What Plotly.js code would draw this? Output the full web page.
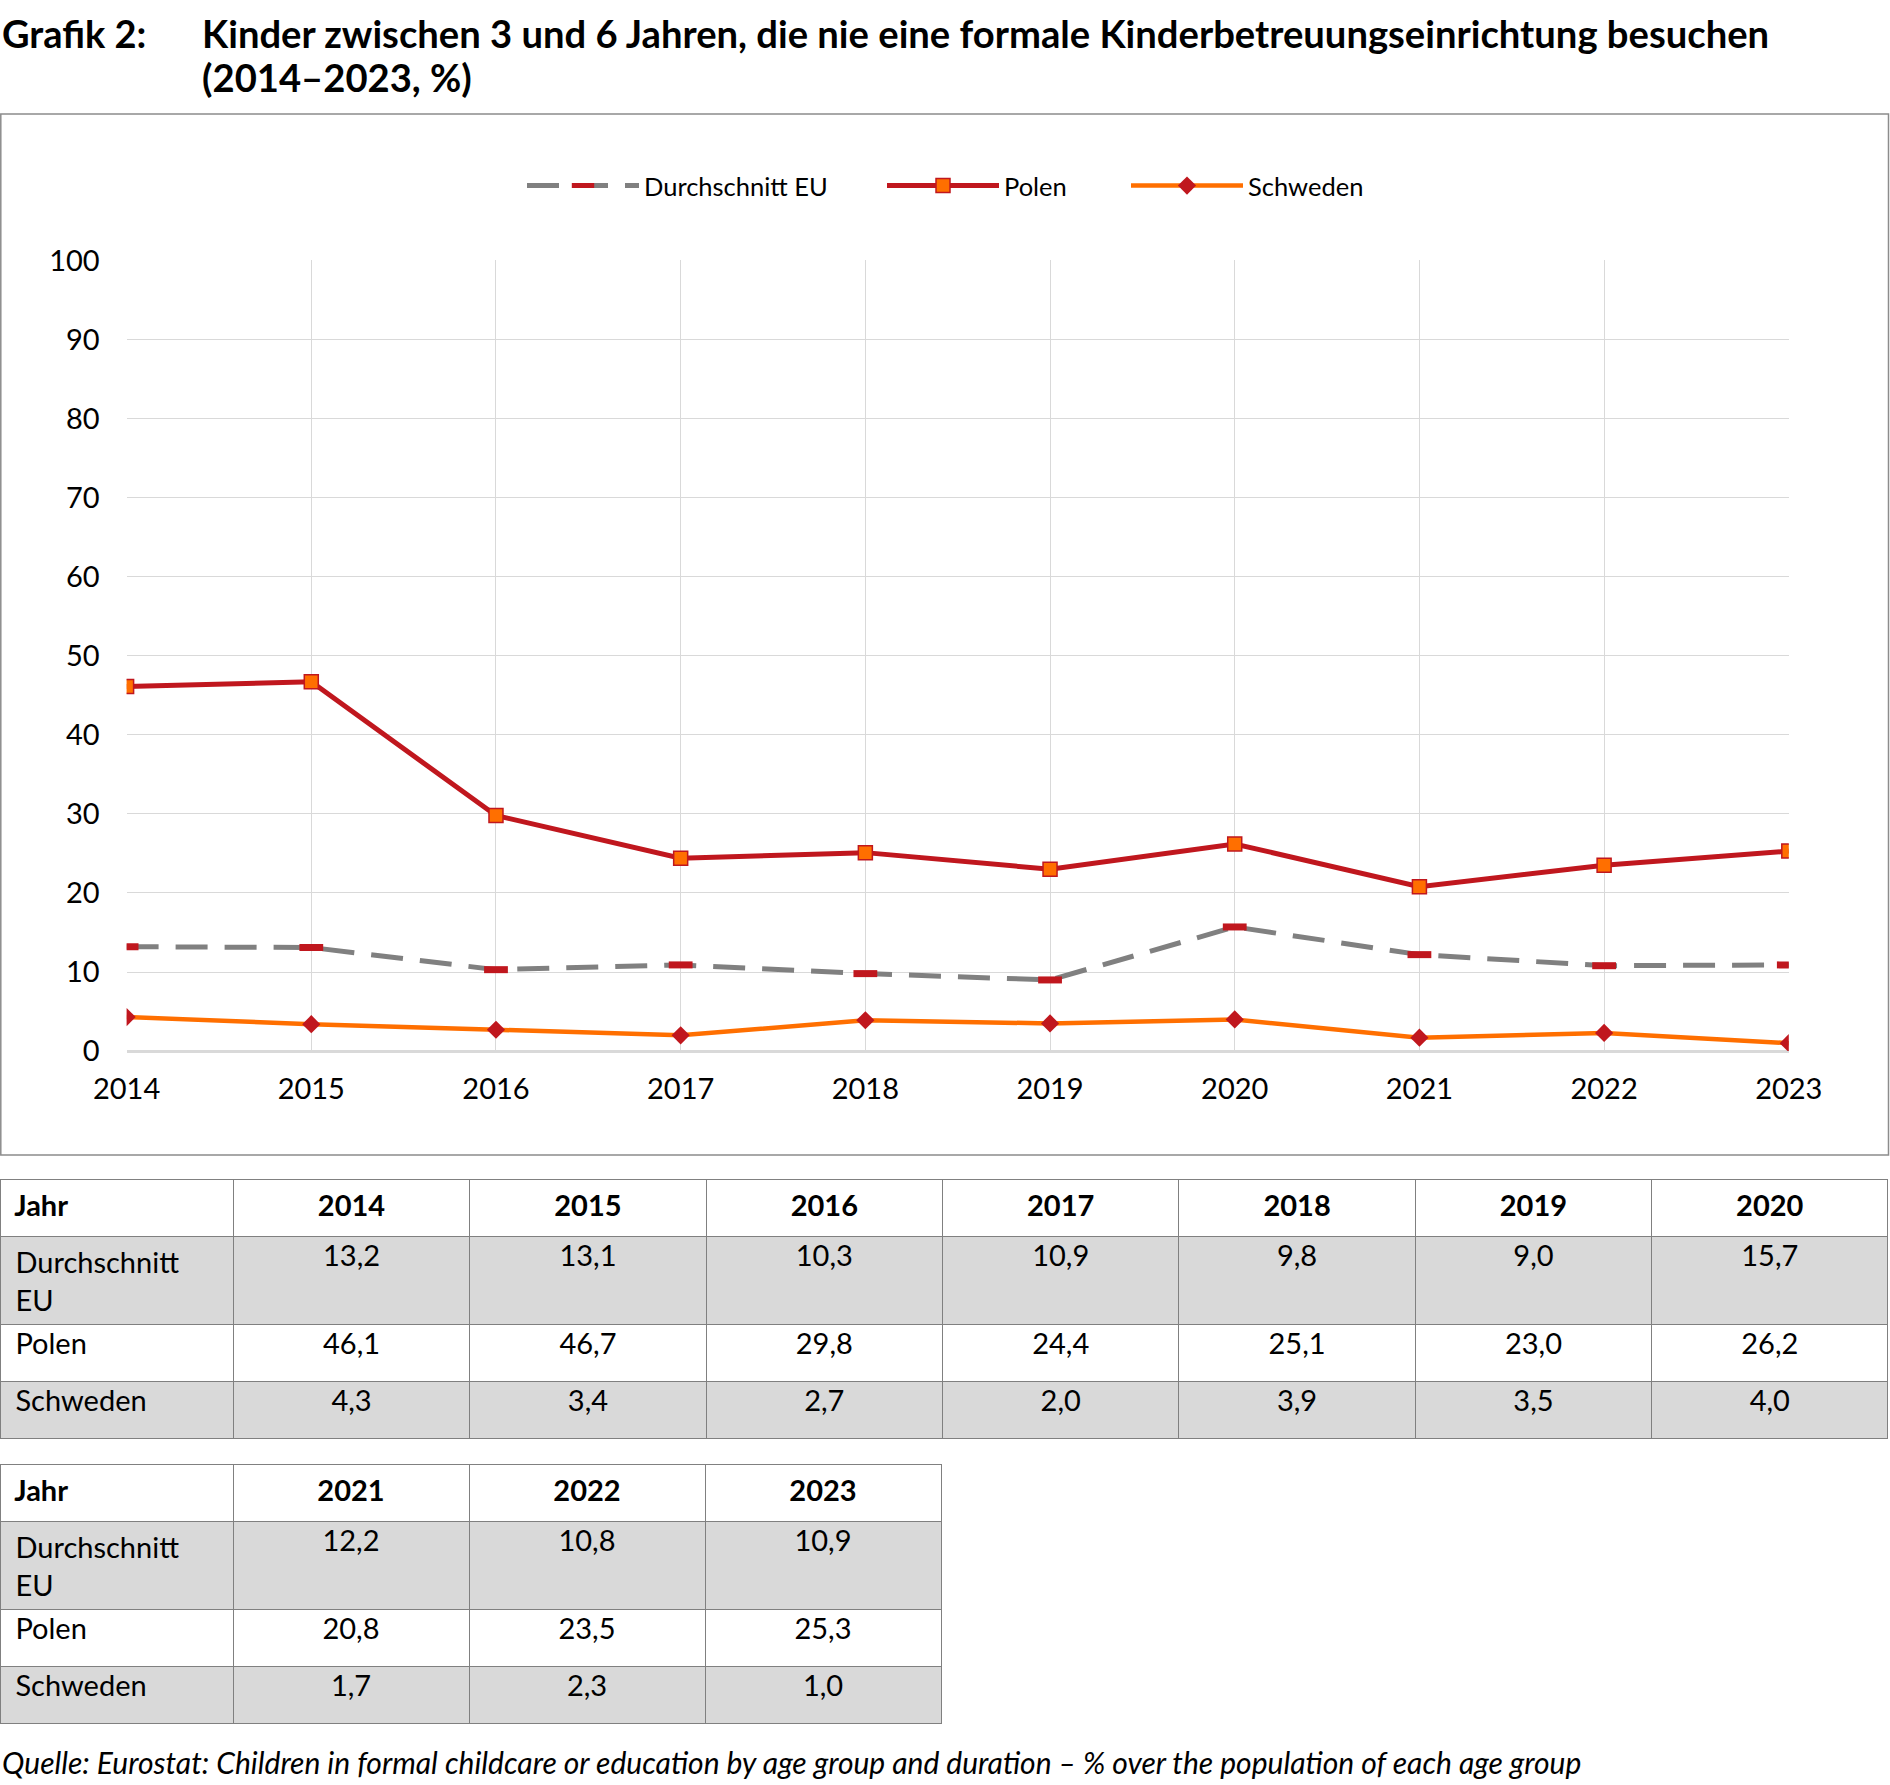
<!DOCTYPE html>
<html>
<head>
<meta charset="utf-8">
<script src="https://cdn.plot.ly/plotly-3.0.1.min.js"></script>
<style>
html,body{margin:0;padding:0;background:#fff;}
#chart{width:1890px;height:1785px;}
</style>
</head>
<body>
<div id="chart"></div>
<script>
// ---- data ----
const years = [2014, 2015, 2016, 2017, 2018, 2019, 2020, 2021, 2022, 2023];
const euAvg = [13.2, 13.1, 10.3, 10.9, 9.8, 9.0, 15.7, 12.2, 10.8, 10.9];
const polen = [46.1, 46.7, 29.8, 24.4, 25.1, 23.0, 26.2, 20.8, 23.5, 25.3];
const schweden = [4.3, 3.4, 2.7, 2.0, 3.9, 3.5, 4.0, 1.7, 2.3, 1.0];
const seriesNames = ['Durchschnitt EU', 'Polen', 'Schweden'];
const rowLabels = ['Durchschnitt<br>EU', 'Polen', 'Schweden'];
const headerLabel = 'Jahr';
const yTicks = [0, 10, 20, 30, 40, 50, 60, 70, 80, 90, 100];
const titleLabel = 'Grafik 2:';
const titleLines = ['Kinder zwischen 3 und 6 Jahren, die nie eine formale Kinderbetreuungseinrichtung besuchen', '(2014–2023, %)'];
const sourceText = 'Quelle: Eurostat: Children in formal childcare or education by age group and duration – % over the population of each age group';

// ---- helpers ----
const W = 1890, H = 1785;
const px = x => x / W;
const py = y => 1 - y / H;
const fmt = v => v.toFixed(1).replace('.', ',');
const pad = s => s.split('<br>').map(t => '\u00A0' + t).join('<br>');
const FONT = 'Lato, "Open Sans", sans-serif';
const RED = '#C0171E';
const ORANGE = '#FF6F00';
const GRAY = '#808080';

function makeTable(idx, xDom, yDom) {
  const header = ['<b>' + pad(headerLabel) + '</b>'].concat(idx.map(i => '<b>' + years[i] + '</b>'));
  const cols = [rowLabels.map(pad)].concat(idx.map(i => [fmt(euAvg[i]), fmt(polen[i]), fmt(schweden[i])]));
  const fills = cols.map(() => ['#D9D9D9', '#FFFFFF', '#D9D9D9']);
  return {
    type: 'table',
    domain: {x: xDom, y: yDom},
    columnwidth: [233].concat(idx.map(() => 236)),
    header: {
      values: header,
      align: ['left'].concat(idx.map(() => 'center')),
      fill: {color: '#FFFFFF'},
      line: {color: GRAY, width: 1},
      font: {family: FONT, size: 29, color: '#000'},
      height: 57
    },
    cells: {
      values: cols,
      align: ['left'].concat(idx.map(() => 'center')),
      fill: {color: fills},
      line: {color: GRAY, width: 1},
      font: {family: FONT, size: 29, color: '#000'},
      height: 57
    }
  };
}

const traces = [
  {
    type: 'scatter', mode: 'lines+markers', name: seriesNames[0], legend: 'legend',
    x: years, y: euAvg,
    line: {color: GRAY, width: 5, dash: '32px,17px'},
    marker: {symbol: 'line-ew', size: 17, color: RED, line: {color: RED, width: 7}}
  },
  {
    type: 'scatter', mode: 'lines+markers', name: seriesNames[1], legend: 'legend2',
    x: years, y: polen,
    line: {color: RED, width: 5},
    marker: {symbol: 'square', size: 14, color: ORANGE, line: {color: RED, width: 1.5}}
  },
  {
    type: 'scatter', mode: 'lines+markers', name: seriesNames[2], legend: 'legend3',
    x: years, y: schweden,
    line: {color: ORANGE, width: 4.5},
    marker: {symbol: 'diamond', size: 14, color: RED, line: {width: 0}}
  },
  makeTable([0, 1, 2, 3, 4, 5, 6], [0, px(1888)], [py(1448), py(1179)]),
  makeTable([7, 8, 9], [0, px(941)], [py(1734), py(1464)])
];

function legendAt(xLeft) {
  return {
    orientation: 'h', x: px(xLeft), xanchor: 'left', y: py(186), yanchor: 'middle',
    font: {family: FONT, size: 25.5, color: '#000'},
    itemwidth: 112, bgcolor: 'rgba(0,0,0,0)', borderwidth: 0
  };
}

const layout = {
  width: W, height: H,
  margin: {l: 0, r: 0, t: 0, b: 0},
  paper_bgcolor: '#fff', plot_bgcolor: '#fff',
  font: {family: FONT, color: '#000'},
  showlegend: true,
  legend: legendAt(522),
  legend2: legendAt(882),
  legend3: legendAt(1126),
  xaxis: {
    domain: [px(126.6), px(1788.8)],
    range: [2014, 2023],
    tickvals: years, ticktext: years.map(String),
    showgrid: true, gridcolor: '#D9D9D9', gridwidth: 1,
    showline: false, zeroline: false, ticks: '',
    tickfont: {family: FONT, size: 29, color: '#000'},
    ticklabelstandoff: 18, fixedrange: true
  },
  yaxis: {
    domain: [py(1051.1), py(260.4)],
    range: [0, 100],
    tickvals: yTicks,
    showgrid: true, gridcolor: '#D9D9D9', gridwidth: 1,
    zeroline: true, zerolinecolor: '#D9D9D9', zerolinewidth: 3,
    showline: false, ticks: '',
    tickfont: {family: FONT, size: 29, color: '#000'},
    ticklabelstandoff: 26, fixedrange: true
  },
  shapes: [
    {type: 'rect', xref: 'paper', yref: 'paper', x0: px(0.8), x1: px(1888.5), y0: py(1155), y1: py(114),
     line: {color: '#8C8C8C', width: 1.5}, fillcolor: 'rgba(0,0,0,0)'}
  ],
  annotations: [
    {xref: 'paper', yref: 'paper', x: 0, y: py(32.5), xanchor: 'left', yanchor: 'middle',
     text: '<b>' + titleLabel + '</b>', showarrow: false, align: 'left',
     font: {family: FONT, size: 38, color: '#000'}},
    {xref: 'paper', yref: 'paper', x: px(200), y: py(32.5), xanchor: 'left', yanchor: 'middle',
     text: '<b>' + titleLines[0] + '</b>', showarrow: false, align: 'left',
     font: {family: FONT, size: 38.2, color: '#000'}},
    {xref: 'paper', yref: 'paper', x: px(200), y: py(77), xanchor: 'left', yanchor: 'middle',
     text: '<b>' + titleLines[1] + '</b>', showarrow: false, align: 'left',
     font: {family: FONT, size: 38.2, color: '#000'}},
    {xref: 'paper', yref: 'paper', x: 0, y: py(1762), xanchor: 'left', yanchor: 'middle',
     text: '<i>' + sourceText + '</i>', showarrow: false, align: 'left',
     font: {family: FONT, size: 30, color: '#000'}}
  ]
};

Plotly.newPlot('chart', traces, layout, {staticPlot: true, displayModeBar: false});
</script>
</body>
</html>
